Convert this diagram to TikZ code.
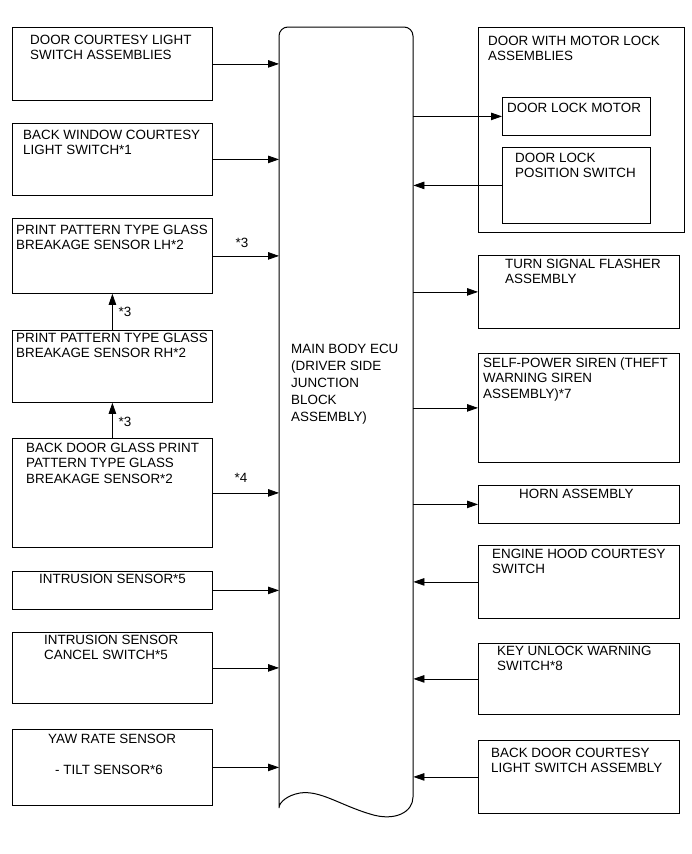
\documentclass[tikz,border=0pt]{standalone}
\usepackage{fontspec}
\setmainfont{Liberation Sans}
\usetikzlibrary{arrows.meta}
\newcommand{\ml}[1]{\begin{tabular}[t]{@{}l@{}}#1\end{tabular}}
\begin{document}
\begin{tikzpicture}[x=1pt,y=-1pt,
  box/.style={draw, line width=0.8pt, anchor=north west, inner sep=0pt},
  lbl/.style={anchor=base west, inner sep=0pt, font=\fontsize{13.4}{15.5}\selectfont},
  note/.style={inner sep=0pt, font=\fontsize{13.4}{15.5}\selectfont},
  arr/.style={line width=0.8pt, -{Triangle[length=11pt,width=7.5pt]}}]
\useasboundingbox (0,0) rectangle (691,854);
% ECU
\node[inner sep=0pt, anchor=north west, minimum width=134pt, minimum height=781pt] (ecu) at (279,27) {};
\draw[line width=1pt] (279,808) -- (279,36) arc[start angle=180,end angle=90,radius=9pt] -- (404,27)
  arc[start angle=90,end angle=0,radius=9pt] -- (413,797)
  .. controls (413,812) and (395,822) .. (370,814)
  .. controls (340,805) and (320,790) .. (300,793)
  .. controls (288,795) and (279,802) .. (279,808);
\node[lbl, font=\fontsize{13.4}{17}\selectfont] (ecut) at (291,353) {\ml{MAIN BODY ECU\\(DRIVER SIDE\\JUNCTION\\BLOCK\\ASSEMBLY)}};
% left boxes
\node[box, minimum width=200pt, minimum height=73pt] (b1) at (12,27) {};
\node[lbl] (t1) at (30,44) {\ml{DOOR COURTESY LIGHT\\SWITCH ASSEMBLIES}};
\node[box, minimum width=200pt, minimum height=72pt] (b2) at (12,123) {};
\node[lbl] (t2) at (23,139) {\ml{BACK WINDOW COURTESY\\LIGHT SWITCH*1}};
\node[box, minimum width=200pt, minimum height=75pt] (b3) at (12,218) {};
\node[lbl] (t3) at (16,234) {\ml{PRINT PATTERN TYPE GLASS\\BREAKAGE SENSOR LH*2}};
\node[box, minimum width=200pt, minimum height=72pt] (b4) at (12,330) {};
\node[lbl] (t4) at (16,342) {\ml{PRINT PATTERN TYPE GLASS\\BREAKAGE SENSOR RH*2}};
\node[box, minimum width=200pt, minimum height=109pt] (b5) at (12,438) {};
\node[lbl] (t5) at (26,452) {\ml{BACK DOOR GLASS PRINT\\PATTERN TYPE GLASS\\BREAKAGE SENSOR*2}};
\node[box, minimum width=200pt, minimum height=38pt] (b6) at (12,571) {};
\node[lbl] (t6) at (39,583) {INTRUSION SENSOR*5};
\node[box, minimum width=200pt, minimum height=71pt] (b7) at (12,632) {};
\node[lbl] (t7) at (44,644) {\ml{INTRUSION SENSOR\\CANCEL SWITCH*5}};
\node[box, minimum width=200pt, minimum height=76pt] (b8) at (12,729) {};
\node[lbl] (t8) at (48,743) {\ml{YAW RATE SENSOR\\ \\\hspace*{7pt}- TILT SENSOR*6}};
% right boxes
\node[box, minimum width=206pt, minimum height=205pt] (r0) at (478,27) {};
\node[lbl] (s0) at (488,45) {\ml{DOOR WITH MOTOR LOCK\\ASSEMBLIES}};
\node[box, minimum width=148pt, minimum height=38pt] (r1) at (502,97) {};
\node[lbl] (s1) at (507,112) {DOOR LOCK MOTOR};
\node[box, minimum width=148pt, minimum height=76pt] (r2) at (502,147) {};
\node[lbl] (s2) at (515,162) {\ml{DOOR LOCK\\POSITION SWITCH}};
\node[box, minimum width=201pt, minimum height=73pt] (r3) at (478,255) {};
\node[lbl] (s3) at (505,268) {\ml{TURN SIGNAL FLASHER\\ASSEMBLY}};
\node[box, minimum width=201pt, minimum height=109pt] (r4) at (478,353) {};
\node[lbl] (s4) at (483,367) {\ml{SELF-POWER SIREN (THEFT\\WARNING SIREN\\ASSEMBLY)*7}};
\node[box, minimum width=201pt, minimum height=38pt] (r5) at (478,485) {};
\node[lbl] (s5) at (519,498) {HORN ASSEMBLY};
\node[box, minimum width=201pt, minimum height=73pt] (r6) at (478,545) {};
\node[lbl] (s6) at (492,558) {\ml{ENGINE HOOD COURTESY\\SWITCH}};
\node[box, minimum width=201pt, minimum height=71pt] (r7) at (478,643) {};
\node[lbl] (s7) at (497,655) {\ml{KEY UNLOCK WARNING\\SWITCH*8}};
\node[box, minimum width=201pt, minimum height=73pt] (r8) at (478,740) {};
\node[lbl] (s8) at (491,757) {\ml{BACK DOOR COURTESY\\LIGHT SWITCH ASSEMBLY}};
% arrows left
\foreach \b in {b1,b2,b3,b5,b6,b7,b8} \draw[arr] (\b.east) -- (ecu.west |- \b.east);
\draw[arr] (b4.north) -- (b3.south);
\draw[arr] (b5.north) -- (b4.south);
\node[note] (n1) at (242,243) {*3};
\node[note] (n2) at (125,312) {*3};
\node[note] (n3) at (125,422) {*3};
\node[note] (n4) at (241,478) {*4};
% arrows right
\foreach \b in {r1,r3,r4,r5} \draw[arr] (ecu.east |- \b.west) -- (\b.west);
\foreach \b in {r2,r6,r7,r8} \draw[arr] (\b.west) -- (ecu.east |- \b.west);
\end{tikzpicture}
\end{document}
